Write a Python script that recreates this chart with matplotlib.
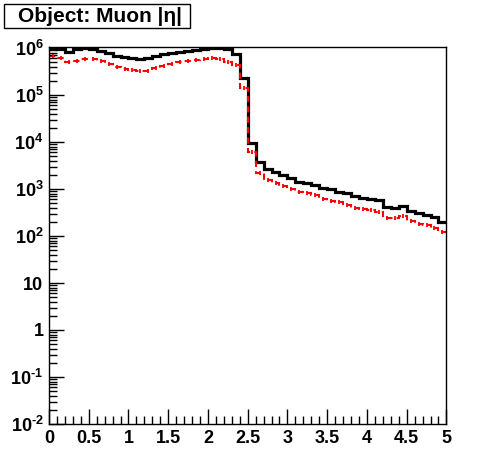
import numpy as np
import matplotlib.pyplot as plt
from matplotlib.patches import Rectangle
from matplotlib.ticker import FixedLocator, MultipleLocator, LogLocator, NullFormatter

plt.rcParams['font.family'] = ['Liberation Sans', 'DejaVu Sans']
plt.rcParams['mathtext.fontset'] = 'custom'
plt.rcParams['mathtext.rm'] = 'Liberation Sans:bold'
plt.rcParams['mathtext.bf'] = 'Liberation Sans:bold'
plt.rcParams['mathtext.it'] = 'Liberation Sans:bold'

# 50 bins of |eta| from 0 to 5
edges = np.linspace(0, 5, 51)

# all muons (black)
all_mu = [1.0e6, 9.7e5, 8.1e5, 9.4e5, 1.0e6, 9.5e5, 8.6e5, 7.7e5, 6.8e5, 6.35e5,
          6.0e5, 5.75e5, 6.0e5, 6.85e5, 7.35e5, 7.7e5, 8.2e5, 8.6e5, 9.2e5, 9.7e5,
          9.8e5, 9.8e5, 9.3e5, 7.35e5, 2.3e5, 9.7e3, 3.8e3, 2.7e3, 2.3e3, 1.99e3,
          1.74e3, 1.41e3, 1.34e3, 1.23e3, 1.07e3, 1.01e3, 877, 811, 700, 644,
          613, 575, 420, 400, 441, 340, 313, 284, 250, 201]

# selected muons (red)
sel_mu = [6.85e5, 6.0e5, 4.96e5, 5.37e5, 5.84e5, 5.7e5, 5.37e5, 4.57e5, 4.0e5, 3.57e5,
          3.4e5, 3.24e5, 3.29e5, 3.8e5, 4.2e5, 4.57e5, 4.96e5, 5.28e5, 5.56e5, 5.92e5,
          6.0e5, 5.84e5, 5.16e5, 4.35e5, 1.43e5, 6.2e3, 2.22e3, 1.55e3, 1.34e3, 1.18e3,
          1.01e3, 863, 822, 745, 622, 556, 521, 450, 388, 370,
          357, 324, 245, 241, 267, 206, 183, 169, 146, 122]

xlabels = ['0', '0.5', '1', '1.5', '2', '2.5', '3', '3.5', '4', '4.5', '5']
yt = [1e-2, 1e-1, 1, 10, 1e2, 1e3, 1e4, 1e5, 1e6]
ylabels = [r'$10^{\text{-}2}$', r'$10^{\text{-}1}$', '1', '10', r'$10^{2}$', r'$10^{3}$',
           r'$10^{4}$', r'$10^{5}$', r'$10^{6}$']

fig = plt.figure(figsize=(4.96, 4.72), dpi=100)
ax = fig.add_axes([0.0988, 0.1017, 0.8012, 0.7987])

ax.stairs(all_mu, edges, color='black', linewidth=2.3, baseline=None)
ax.stairs(sel_mu, edges, color='red', linewidth=1.5, linestyle=(0, (3, 2)), baseline=None)
centers = 0.5 * (edges[:-1] + edges[1:])
ax.plot(centers, sel_mu, linestyle='none', marker='|', markersize=3.5,
        markeredgewidth=1.3, color='red')

ax.set_yscale('log')
ax.set_xlim(0, 5)
ax.set_ylim(1e-2, 1.05e6)

ax.xaxis.set_minor_locator(MultipleLocator(0.1))
ax.set_xticks(np.arange(0, 5.01, 0.5))
ax.set_xticklabels(xlabels)

ax.yaxis.set_major_locator(FixedLocator(yt))
ax.set_yticklabels(ylabels)
ax.yaxis.set_minor_locator(LogLocator(base=10, subs=np.arange(2, 10), numticks=20))
ax.yaxis.set_minor_formatter(NullFormatter())

ax.tick_params(axis='both', which='both', direction='in', top=False, right=False,
               labelsize=13, width=1)
ax.tick_params(axis='both', which='major', length=11, pad=4)
ax.tick_params(axis='both', which='minor', length=5.5)
for lab in ax.get_xticklabels() + ax.get_yticklabels():
    lab.set_fontweight('bold')
for sp in ax.spines.values():
    sp.set_linewidth(1)

# title box like ROOT's pave
fig.patches.append(Rectangle((4 / 496, 1 - 28 / 472), 186 / 496, 24 / 472,
                             transform=fig.transFigure, facecolor='white',
                             edgecolor='black', linewidth=1))
fig.text(18 / 496, 1 - 16 / 472, 'Object: Muon |η|', fontsize=15, fontweight='bold',
         ha='left', va='center')

fig.savefig('out.png', dpi=100)
